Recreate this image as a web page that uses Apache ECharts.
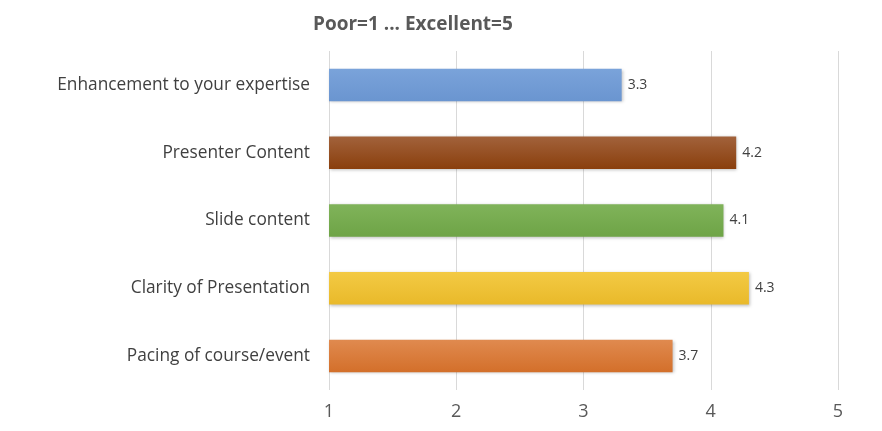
<!DOCTYPE html>
<html><head><meta charset="utf-8">
<script src="https://cdn.jsdelivr.net/npm/echarts@6/dist/echarts.min.js"></script>
<style>html,body{margin:0;padding:0;background:#fff}#c{width:882px;height:431px}</style>
</head><body><div id="c"></div>
<script>
var categories = ["Enhancement to your expertise","Presenter Content","Slide content","Clarity of Presentation","Pacing of course/event"];
var values = [3.3, 4.2, 4.1, 4.3, 3.7];
var xTicks = [1,2,3,4,5];
var barColors = [
  ["#7aa3da","#6a95d0"],
  ["#a2623b","#8a3f0d"],
  ["#80b35a","#6ea446"],
  ["#f3ca44","#e9b92a"],
  ["#e08a4f","#d36f2a"]
];
var chart = echarts.init(document.getElementById('c'));
chart.setOption({
  animation:false,
  title:{text:"Poor=1 ... Excellent=5", left:308, top:10,
    textStyle:{fontFamily:"Open Sans", fontSize:19, fontWeight:"bold", color:"#595959"}},
  grid:{left:329, right:44, top:51, bottom:41},
  xAxis:{type:"value", min:xTicks[0], max:xTicks[xTicks.length-1], interval:1,
    axisLine:{show:false}, axisTick:{show:false},
    splitLine:{lineStyle:{color:"#d9d9d9"}},
    axisLabel:{color:"#595959", fontFamily:"Open Sans", fontSize:18, margin:13}},
  yAxis:{type:"category", data:categories, inverse:true,
    axisLine:{show:false}, axisTick:{show:false},
    axisLabel:{color:"#404040", fontFamily:"Open Sans", fontSize:17.3, margin:19}},
  series:[{type:"bar", barWidth:"48%",
    data:values.map(function(v,i){return {value:v, itemStyle:{
      color:new echarts.graphic.LinearGradient(0,0,0,1,[{offset:0,color:barColors[i][0]},{offset:1,color:barColors[i][1]}]),
      shadowColor:"rgba(0,0,0,0.25)", shadowBlur:3, shadowOffsetX:1, shadowOffsetY:1}};}),
    label:{show:true, position:"right", distance:6, color:"#404040", fontFamily:"Open Sans", fontSize:14}
  }]
});
</script></body></html>
